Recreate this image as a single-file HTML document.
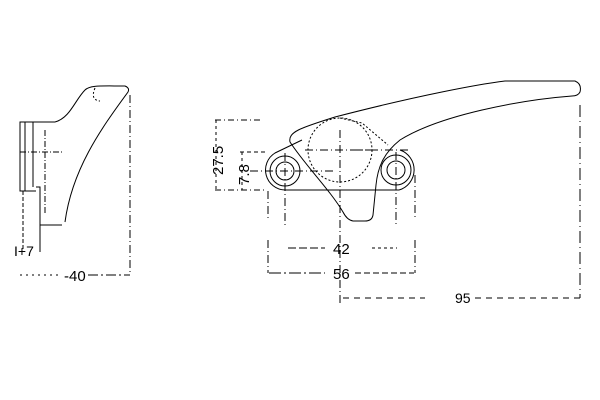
<!DOCTYPE html>
<html><head><style>body{margin:0;background:#fff}svg{display:block}</style></head><body>
<svg width="600" height="400" viewBox="0 0 600 400" xmlns="http://www.w3.org/2000/svg" font-family="Liberation Sans, sans-serif" fill="none" stroke="#000" stroke-width="1">
<!-- side view -->
<rect x="20" y="122" width="5" height="69"/>
<line x1="25" y1="122" x2="55" y2="122"/>
<line x1="33" y1="122" x2="33" y2="187"/>
<line x1="25" y1="191" x2="36" y2="191"/>
<path d="M36 187 L40 187 L40 225 L62 225"/>
<path d="M55 122 C70 118 75 100 85 90 C90 85 100 86 125 86 Q130 88 128 92 C100 130 72 170 65 222"/>
<path d="M95 88 Q90 100 100 101" stroke-dasharray="2 2"/>
<line x1="45" y1="130" x2="45" y2="215" stroke-dasharray="6 2 1 2"/>
<line x1="20" y1="152" x2="62" y2="152" stroke-dasharray="6 2 1 2"/>
<line x1="130" y1="95" x2="130" y2="275" stroke-dasharray="8 3 1 3"/>
<line x1="23" y1="191" x2="23" y2="250" stroke-dasharray="4 2"/>
<line x1="40" y1="225" x2="40" y2="252"/>
<text x="14" y="256" font-size="14" fill="#000" stroke="none">I+7</text>
<text x="64" y="281" font-size="15" fill="#000" stroke="none">-40</text>
<line x1="20" y1="275" x2="60" y2="275" stroke-dasharray="2 4"/>
<line x1="88" y1="275" x2="130" y2="275" stroke-dasharray="10 3 2 3"/>
<!-- front view handle -->
<path d="M290 142 C288 132 300 128 335 117 C420 95 480 84 505 81 L575 81 Q582 84 580 92 Q578 96 572 96 C520 100 440 115 400 140 C385 152 378 165 376 185 L373 215 Q372 221 365 221 L353 221 Q347 220 343 212 C330 190 305 165 290 142"/>
<!-- base -->
<path d="M300 158 L273 158" stroke="none"/>
<path d="M285 190 L399 190 A21 21 0 0 0 400 150 M285 190 A20 20 0 0 1 275 153 L302 140"/>
<circle cx="285" cy="171" r="15"/><circle cx="285" cy="171" r="9"/>
<circle cx="396" cy="170" r="15"/><circle cx="396" cy="170" r="9"/>
<circle cx="340" cy="150" r="32" stroke-dasharray="2 2"/>
<path d="M340 118 L362 123 L388 145" stroke-dasharray="2 2"/>
<line x1="340" y1="130" x2="340" y2="305" stroke-dasharray="8 3 1 3"/>
<line x1="305" y1="150" x2="375" y2="150" stroke-dasharray="8 3 1 3"/>
<line x1="355" y1="150" x2="410" y2="150" stroke-dasharray="8 3 1 3"/>
<line x1="250" y1="171" x2="335" y2="171" stroke-dasharray="8 3 1 3"/>
<line x1="285" y1="153" x2="285" y2="225" stroke-dasharray="8 3 1 3"/>
<line x1="396" y1="152" x2="396" y2="225" stroke-dasharray="8 3 1 3"/>
<line x1="268" y1="191" x2="268" y2="220" stroke-dasharray="8 3 1 3"/>
<line x1="415" y1="175" x2="415" y2="220" stroke-dasharray="8 3 1 3"/>
<line x1="268" y1="240" x2="268" y2="273" stroke-dasharray="8 3 1 3"/>
<line x1="415" y1="240" x2="415" y2="273" stroke-dasharray="8 3 1 3"/>
<line x1="580" y1="105" x2="580" y2="298" stroke-dasharray="12 4 1 4"/>
<!-- vertical dims -->
<line x1="215" y1="120" x2="260" y2="120" stroke-dasharray="6 3 1 3"/>
<line x1="215" y1="190" x2="265" y2="190" stroke-dasharray="6 3 1 3"/>
<line x1="240" y1="152" x2="265" y2="152" stroke-dasharray="4 3"/>
<line x1="216" y1="120" x2="216" y2="190" stroke-dasharray="3 3"/>
<line x1="242" y1="152" x2="242" y2="190" stroke-dasharray="3 3"/>
<text transform="translate(223,175) rotate(-90)" font-size="15" fill="#000" stroke="none">27.5</text>
<text transform="translate(249,185) rotate(-90)" font-size="15" fill="#000" stroke="none">7.8</text>
<!-- horizontal dims -->
<line x1="288" y1="248" x2="325" y2="248" stroke-dasharray="8 3"/>
<line x1="372" y1="248" x2="397" y2="248" stroke-dasharray="3 3"/>
<text x="333" y="254" font-size="15" fill="#000" stroke="none">42</text>
<line x1="269" y1="273" x2="325" y2="273" stroke-dasharray="12 3 2 3"/>
<line x1="355" y1="273" x2="414" y2="273" stroke-dasharray="6 3"/>
<text x="333" y="279" font-size="15" fill="#000" stroke="none">56</text>
<line x1="343" y1="298" x2="425" y2="298" stroke-dasharray="6 5"/>
<line x1="475" y1="298" x2="580" y2="298" stroke-dasharray="6 5"/>
<text x="455" y="303" font-size="14" fill="#000" stroke="none">95</text>
</svg>
</body></html>
